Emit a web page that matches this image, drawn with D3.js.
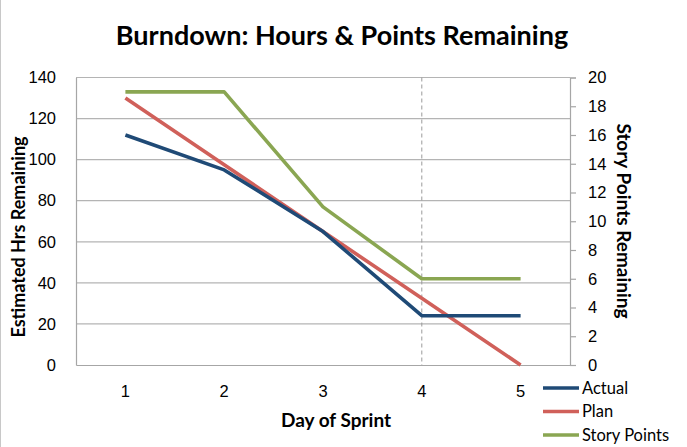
<!DOCTYPE html>
<html>
<head>
<meta charset="utf-8">
<script src="https://cdn.jsdelivr.net/npm/d3@7"></script>
<style>
  body { margin: 0; background: #fff; }
  svg { display: block; font-family: Lato, "Open Sans", sans-serif; }
  .tick text { fill: #000; }
</style>
</head>
<body>
<script>
var width = 687, height = 447;

// data
var days = [1, 2, 3, 4, 5];
var actual = [112, 95, 65, 24, 24];
var plan = [130, 97.5, 65, 32.5, 0];
var storyPoints = [19, 19, 11, 6, 6];
var hrsTicks = [0, 20, 40, 60, 80, 100, 120, 140];
var ptsTicks = [0, 2, 4, 6, 8, 10, 12, 14, 16, 18, 20];
var markerDay = 4;

var colors = {Actual: "#1f4a76", Plan: "#d0605a", "Story Points": "#8aa652"};

var margin = {left: 76, right: 117, top: 77.5, bottom: 82};
var plotW = width - margin.left - margin.right,
    plotH = height - margin.top - margin.bottom;

var svg = d3.select("body").append("svg")
            .attr("width", width).attr("height", height);

// thin frame along the left edge like the original image
svg.append("line").attr("x1", 0.5).attr("x2", 0.5).attr("y1", 0).attr("y2", height)
   .attr("stroke", "#c8c8c8");

var x = d3.scaleBand().domain(days).range([0, plotW]);
var yHrs = d3.scaleLinear().domain([0, 140]).range([plotH, 0]);
var yPts = d3.scaleLinear().domain([0, 20]).range([plotH, 0]);

var g = svg.append("g").attr("transform", "translate(" + margin.left + "," + margin.top + ")");

// gridlines
g.append("g").selectAll("line").data(hrsTicks.slice(1)).enter().append("line")
 .attr("x1", 0).attr("x2", plotW)
 .attr("y1", function(d){ return yHrs(d); }).attr("y2", function(d){ return yHrs(d); })
 .attr("stroke", "#b4b4b4").attr("stroke-width", 1.2);

// left axis
var leftAxis = g.append("g").call(d3.axisLeft(yHrs).tickValues(hrsTicks).tickSize(0).tickPadding(20));
leftAxis.select(".domain").attr("stroke", "#a6a6a6").attr("stroke-width", 1.2);
leftAxis.selectAll("text").attr("font-size", 16.5);

// right axis
var rightAxis = g.append("g").attr("transform", "translate(" + plotW + ",0)")
                 .call(d3.axisRight(yPts).tickValues(ptsTicks).tickSizeOuter(0).tickSize(6).tickPadding(12));
rightAxis.select(".domain").attr("stroke", "#a6a6a6").attr("stroke-width", 1.2);
rightAxis.selectAll("line").attr("stroke", "#a6a6a6").attr("stroke-width", 1.2);
rightAxis.selectAll("text").attr("font-size", 16.5);

// bottom axis
var bottomAxis = g.append("g").attr("transform", "translate(0," + plotH + ")")
                  .call(d3.axisBottom(x).tickSize(0).tickPadding(20));
bottomAxis.select(".domain").attr("stroke", "#a6a6a6").attr("stroke-width", 1.2);
bottomAxis.selectAll("text").attr("font-size", 16.5);

// dashed marker line at current day
g.append("line")
 .attr("x1", x(markerDay) + x.bandwidth() / 2).attr("x2", x(markerDay) + x.bandwidth() / 2)
 .attr("y1", 0).attr("y2", plotH)
 .attr("stroke", "#9a9a9a").attr("stroke-dasharray", "4,3").attr("stroke-width", 1);

function xc(d, i){ return x(days[i]) + x.bandwidth() / 2; }

var lineHrs = d3.line().x(xc).y(function(d){ return yHrs(d); });
var linePts = d3.line().x(xc).y(function(d){ return yPts(d); });

g.append("path").attr("d", linePts(storyPoints)).attr("fill", "none")
 .attr("stroke", colors["Story Points"]).attr("stroke-width", 3.6).attr("stroke-linejoin", "round");
g.append("path").attr("d", lineHrs(plan)).attr("fill", "none")
 .attr("stroke", colors.Plan).attr("stroke-width", 3.6).attr("stroke-linejoin", "round");
g.append("path").attr("d", lineHrs(actual)).attr("fill", "none")
 .attr("stroke", colors.Actual).attr("stroke-width", 3.6).attr("stroke-linejoin", "round");

// titles
svg.append("text").attr("x", 342).attr("y", 45).attr("text-anchor", "middle")
   .attr("font-size", 27).attr("font-weight", "bold").text("Burndown: Hours & Points Remaining");

svg.append("text").attr("transform", "translate(25,237) rotate(-90)").attr("text-anchor", "middle")
   .attr("font-size", 18).attr("font-weight", "bold").text("Estimated Hrs Remaining");

svg.append("text").attr("transform", "translate(617,221) rotate(90)").attr("text-anchor", "middle")
   .attr("font-size", 19).attr("font-weight", "bold").text("Story Points Remaining");

svg.append("text").attr("x", 336).attr("y", 427).attr("text-anchor", "middle")
   .attr("font-size", 19).attr("font-weight", "bold").text("Day of Sprint");

// legend
var legendNames = ["Actual", "Plan", "Story Points"];
var legend = svg.append("g").attr("transform", "translate(543,388)").selectAll(".legends")
                .data(legendNames).enter().append("g").classed("legends", true)
                .attr("transform", function(d, i){ return "translate(0," + i * 23.5 + ")"; });
legend.append("line").attr("x1", 0).attr("x2", 36).attr("y1", 0).attr("y2", 0)
      .attr("stroke", function(d){ return colors[d]; }).attr("stroke-width", 3.6);
legend.append("text").attr("x", 39).attr("y", 0).attr("dy", "0.35em")
      .attr("font-size", 16.5).text(function(d){ return d; });
</script>
</body>
</html>
